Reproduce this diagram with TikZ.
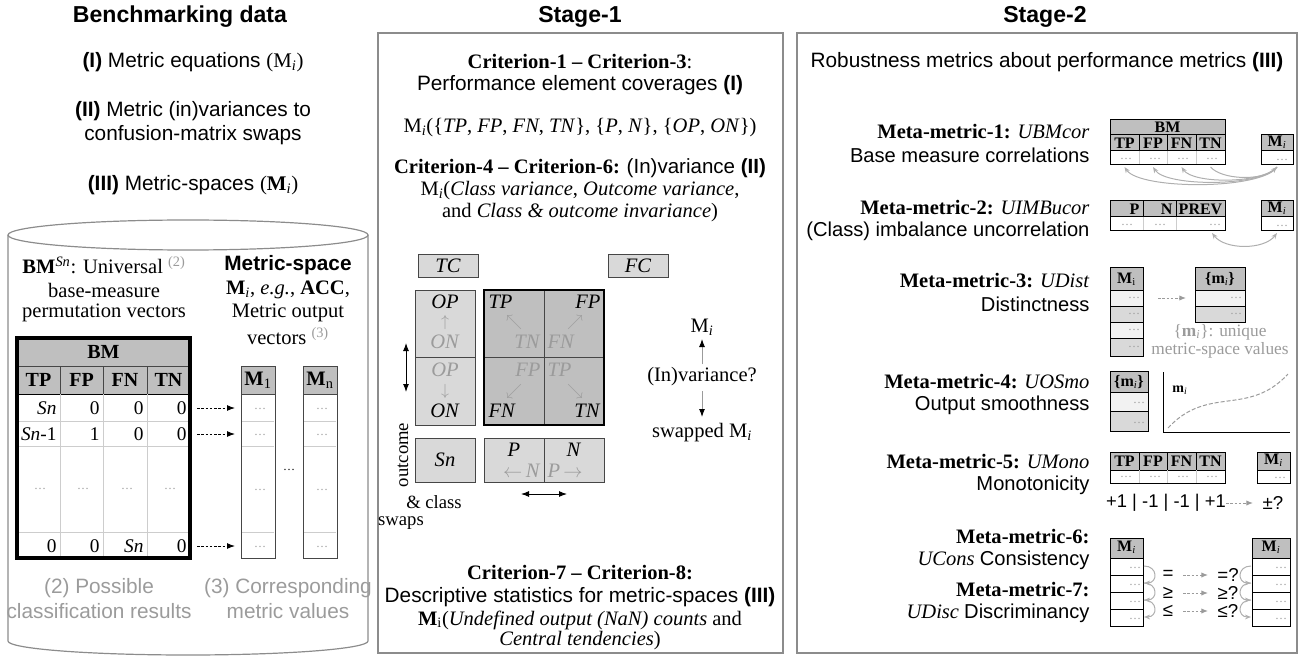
\documentclass[tikz,border=0pt]{standalone}
\usepackage{fontspec}
\setmainfont{Liberation Serif}
\setsansfont{Liberation Sans}
\usetikzlibrary{arrows.meta}

\definecolor{hdrgray}{RGB}{191,191,191}
\definecolor{boxgray}{RGB}{217,217,217}
\definecolor{cellgray}{RGB}{242,242,242}
\definecolor{txtgray}{RGB}{155,155,155}
\definecolor{boxline}{RGB}{140,140,140}
\definecolor{darkline}{RGB}{70,70,70}
\definecolor{rulegray}{RGB}{205,205,205}
\definecolor{arcgray}{RGB}{175,175,175}

\newcommand{\Mi}{M\textsubscript{\textit{i}}}
\newcommand{\bMi}{\textbf{M}\textsubscript{\textit{i}}}
\newcommand{\bmi}{\textbf{m}\textsubscript{\textit{i}}}

\tikzset{every picture/.style={line width=0.75pt}}
\tikzset{
  rmtxt/.style={inner sep=0pt, font=\fontsize{15.4}{18}\selectfont},
  sftxt/.style={inner sep=0pt, font=\sffamily\fontsize{15.6}{18}\selectfont},
  sfsmall/.style={inner sep=0pt, font=\sffamily\fontsize{15.1}{18}\selectfont},
  ttltxt/.style={inner sep=0pt, font=\sffamily\bfseries\fontsize{17.3}{20}\selectfont},
  tabtxt/.style={inner sep=0pt, font=\fontsize{14.5}{17}\selectfont},
  minitxt/.style={inner sep=0pt, font=\bfseries\fontsize{12}{14}\selectfont},
  dottxt/.style={inner sep=0pt, text=txtgray, font=\fontsize{9}{10}\selectfont},
  stagebox/.style={draw=boxline, line width=1pt},
  cylline/.style={draw=boxline, line width=0.9pt},
  hdrcell/.style={draw=darkline, fill=hdrgray},
  thinrule/.style={draw=rulegray},
  dasharrow/.style={dash pattern=on 2pt off 1.2pt, -{Latex[length=6pt,width=4.5pt]}},
  gdasharrow/.style={draw=txtgray, dash pattern=on 2pt off 1.2pt, -{Latex[length=5pt,width=4pt]}},
  garc/.style={draw=arcgray, -{Stealth[length=4.5pt,width=3.5pt]}},
  blkarrow/.style={draw=txtgray, -{Latex[length=6pt,width=4.5pt,color=black]}},
  dblarrow/.style={{Latex[length=6pt,width=4.5pt]}-{Latex[length=6pt,width=4.5pt]}},
}

\begin{document}
\begin{tikzpicture}[x=0.75pt,y=0.75pt,yscale=-1,xscale=1]
	\useasboundingbox (0,0) rectangle (1302,659);

	%%% Benchmarking data
	\node[ttltxt] (bmtitle) at (180,17) {Benchmarking data};
	\node[sftxt] (lvI) at (193,62) {\textbf{(I)} Metric equations {\rmfamily(\Mi)}};
	\node[sftxt] (lvII) at (193,111) {\textbf{(II)} Metric (in)variances to};
	\node[sftxt] (lvIIb) at (193,135) {confusion-matrix swaps};
	\node[sftxt] (lvIII) at (193,185) {\textbf{(III)} Metric-spaces {\rmfamily(\bMi)}};

	%Shape: Can
	\draw[cylline] (8,235) -- (8,641) arc[start angle=180, end angle=0, x radius=180, y radius=14] -- (368,235);
	\draw[cylline] (188,235) ellipse [x radius=180, y radius=15];

	% Text Node
	\node[rmtxt] (bmsn) at (104,265) {\textbf{BM}\textsuperscript{\textit{Sn}}: Universal \textcolor{txtgray}{\textsuperscript{(2)}}};
	\node[rmtxt] (bmsnb) at (104,290) {base-measure};
	\node[rmtxt] (bmsnc) at (104,313) {permutation vectors};
	\node[sftxt, font=\sffamily\bfseries\fontsize{15.6}{18}\selectfont] (msp) at (288,265) {Metric-space};
	\node[rmtxt] (mspb) at (288,290) {\bMi, \textit{e.g.}, \textbf{ACC},};
	\node[rmtxt] (mspc) at (288,313) {Metric output};
	\node[rmtxt] (mspd) at (288,336) {vectors \textcolor{txtgray}{\textsuperscript{(3)}}};

	%Table: BM
	\draw[hdrcell] (17,338) rectangle (190,394);
	\draw[fill=white] (17,394) rectangle (190,558);
	\draw[darkline] (17,366) -- (190,366);
	\draw[darkline] (60,366) -- (60,394);
	\draw[darkline] (103,366) -- (103,394);
	\draw[darkline] (147,366) -- (147,394);
	\draw[thinrule] (60,394) -- (60,558);
	\draw[thinrule] (103,394) -- (103,558);
	\draw[thinrule] (147,394) -- (147,558);
	\draw[thinrule] (17,421) -- (190,421);
	\draw[thinrule] (17,446) -- (190,446);
	\draw[thinrule] (17,532) -- (190,532);
	\draw[line width=2.4pt] (17,338) rectangle (190,558);

	\node[tabtxt, font=\bfseries\fontsize{15}{17}\selectfont] (bmhd) at (103.5,352) {BM};
	\node[tabtxt, font=\bfseries\fontsize{15}{17}\selectfont] (tphd) at (38.5,380) {TP};
	\node[tabtxt, font=\bfseries\fontsize{15}{17}\selectfont] (fphd) at (81.5,380) {FP};
	\node[tabtxt, font=\bfseries\fontsize{15}{17}\selectfont] (fnhd) at (125,380) {FN};
	\node[tabtxt, font=\bfseries\fontsize{15}{17}\selectfont] (tnhd) at (168.5,380) {TN};
	\node[tabtxt, anchor=east] (ra) at (57,408) {\textit{Sn}};
	\node[tabtxt, anchor=east] (rb) at (100,408) {0};
	\node[tabtxt, anchor=east] (rc) at (144,408) {0};
	\node[tabtxt, anchor=east] (rd) at (187,408) {0};
	\node[tabtxt, anchor=east] (sa) at (57,434) {\textit{Sn}-1};
	\node[tabtxt, anchor=east] (sb) at (100,434) {1};
	\node[tabtxt, anchor=east] (sc) at (144,434) {0};
	\node[tabtxt, anchor=east] (sd) at (187,434) {0};
	\node[dottxt] (ta) at (40,489) {\dots};
	\node[dottxt] (tb) at (83,489) {\dots};
	\node[dottxt] (tc) at (127,489) {\dots};
	\node[dottxt] (td) at (170,489) {\dots};
	\node[tabtxt, anchor=east] (ua) at (57,546) {0};
	\node[tabtxt, anchor=east] (ub) at (100,546) {0};
	\node[tabtxt, anchor=east] (uc) at (144,546) {\textit{Sn}};
	\node[tabtxt, anchor=east] (ud) at (187,546) {0};

	%Table: M1 and Mn
	\draw[hdrcell] (241,366) rectangle (275,394);
	\draw[draw=darkline] (241,394) rectangle (275,558);
	\draw[thinrule] (242,421) -- (274,421);
	\draw[thinrule] (242,446) -- (274,446);
	\draw[thinrule] (242,532) -- (274,532);
	\draw[hdrcell] (303,366) rectangle (337,394);
	\draw[draw=darkline] (303,394) rectangle (337,558);
	\draw[thinrule] (304,421) -- (336,421);
	\draw[thinrule] (304,446) -- (336,446);
	\draw[thinrule] (304,532) -- (336,532);
	\node[tabtxt, font=\bfseries\fontsize{15.4}{17}\selectfont] (mone) at (258,380) {M\textsubscript{\mdseries 1}};
	\node[tabtxt, font=\bfseries\fontsize{15.4}{17}\selectfont] (mn) at (320,380) {M\textsubscript{\mdseries n}};
	\node[dottxt] (m1a) at (260,409) {\dots};
	\node[dottxt] (m1b) at (260,435) {\dots};
	\node[dottxt] (m1c) at (260,490) {\dots};
	\node[dottxt] (m1d) at (260,547) {\dots};
	\node[dottxt] (mna) at (322,409) {\dots};
	\node[dottxt] (mnb) at (322,435) {\dots};
	\node[dottxt] (mnc) at (322,490) {\dots};
	\node[dottxt] (mnd) at (322,547) {\dots};
	\node[dottxt, text=black] (mgap) at (289,470) {\dots};

	%Dashed arrows
	\coordinate (bra) at (197,408);
	\coordinate (brb) at (197,434);
	\coordinate (brc) at (197,546);
	\coordinate (mra) at (235,408);
	\coordinate (mrb) at (235,434);
	\coordinate (mrc) at (235,546);
	\draw[dasharrow] (bra) -- (mra);
	\draw[dasharrow] (brb) -- (mrb);
	\draw[dasharrow] (brc) -- (mrc);

	\node[sftxt, text=txtgray] (possa) at (99,588) {(2) Possible};
	\node[sftxt, text=txtgray] (possb) at (99,611) {classification results};
	\node[sftxt, text=txtgray] (corra) at (288,588) {(3) Corresponding};
	\node[sftxt, text=txtgray] (corrb) at (288,611) {metric values};

	%%% Stage-1
	\node[ttltxt] (stone) at (580,17) {Stage-1};
	\draw[stagebox] (378,33) rectangle (783,653);
	\node[rmtxt] (crA) at (580,62) {\textbf{Criterion-1 -- Criterion-3}:};
	\node[sftxt] (crAb) at (580,85) {Performance element coverages \textbf{(I)}};
	\node[rmtxt] (cov) at (580,128) {\Mi(\{\textit{TP}, \textit{FP}, \textit{FN}, \textit{TN}\}, \{\textit{P}, \textit{N}\}, \{\textit{OP}, \textit{ON}\})};
	\node[rmtxt] (crB) at (580,168) {\textbf{Criterion-4 -- Criterion-6:} {\sffamily (In)variance \textbf{(II)}}};
	\node[rmtxt] (crBb) at (580,191) {\Mi(\textit{Class variance}, \textit{Outcome variance},};
	\node[rmtxt] (crBc) at (580,213) {and \textit{Class \& outcome invariance})};

	%TC and FC
	\draw[draw=darkline, fill=boxgray] (418,255) rectangle (478,277);
	\draw[draw=darkline, fill=boxgray] (608,255) rectangle (668,277);
	\node[rmtxt] (tc) at (448,266) {\textit{TC}};
	\node[rmtxt] (fc) at (638,266) {\textit{FC}};

	%Outcome box
	\draw[draw=darkline, fill=boxgray] (415,290) rectangle (475,425);
	\draw[darkline] (415,357.5) -- (475,357.5);
	\node[rmtxt] (opa) at (445,302) {\textit{OP}};
	\node[rmtxt, text=txtgray, font=\fontsize{12}{14}\selectfont] (upa) at (445,322) {$\uparrow$};
	\node[rmtxt, text=txtgray] (ona) at (445,342) {\textit{ON}};
	\node[rmtxt, text=txtgray] (opb) at (445,370) {\textit{OP}};
	\node[rmtxt, text=txtgray, font=\fontsize{12}{14}\selectfont] (dnb) at (445,391) {$\downarrow$};
	\node[rmtxt] (onb) at (445,411) {\textit{ON}};

	%Confusion matrix
	\draw[fill=hdrgray] (484,290) rectangle (604,425);
	\draw[darkline] (544,290) -- (544,425);
	\draw[darkline] (484,357.5) -- (604,357.5);
	\draw[line width=2.2pt] (484,290) rectangle (604,425);
	\node[rmtxt, anchor=west] (tpa) at (488,302) {\textit{TP}};
	\node[rmtxt, text=txtgray, font=\fontsize{12}{14}\selectfont] (nwa) at (514,322) {$\nwarrow$};
	\node[rmtxt, anchor=east, text=txtgray] (tna) at (541,342) {\textit{TN}};
	\node[rmtxt, anchor=east] (fpa) at (601,302) {\textit{FP}};
	\node[rmtxt, text=txtgray, font=\fontsize{12}{14}\selectfont] (nea) at (575,322) {$\nearrow$};
	\node[rmtxt, anchor=west, text=txtgray] (fna) at (547,342) {\textit{FN}};
	\node[rmtxt, anchor=east, text=txtgray] (fpb) at (541,370) {\textit{FP}};
	\node[rmtxt, text=txtgray, font=\fontsize{12}{14}\selectfont] (swb) at (514,391) {$\swarrow$};
	\node[rmtxt, anchor=west] (fnb) at (488,411) {\textit{FN}};
	\node[rmtxt, anchor=west, text=txtgray] (tpb) at (547,370) {\textit{TP}};
	\node[rmtxt, text=txtgray, font=\fontsize{12}{14}\selectfont] (seb) at (575,391) {$\searrow$};
	\node[rmtxt, anchor=east] (tnb) at (601,411) {\textit{TN}};

	%Sn and P N
	\draw[draw=darkline, fill=boxgray] (415,438) rectangle (475,482);
	\node[rmtxt] (sn) at (445,460) {\textit{Sn}};
	\draw[draw=darkline, fill=boxgray] (484,438) rectangle (604,482);
	\draw[darkline] (544,438) -- (544,482);
	\node[rmtxt] (pp) at (514,450) {\textit{P}};
	\node[rmtxt] (nn) at (574,450) {\textit{N}};
	\node[rmtxt, anchor=east, text=txtgray] (pl) at (541,471) {$\leftarrow$\,\textit{N}};
	\node[rmtxt, anchor=west, text=txtgray] (pr) at (547,471) {\textit{P}\,$\rightarrow$};

	\coordinate (hl) at (521,494);
	\coordinate (hr) at (567,494);
	\draw[dblarrow] (hl) -- (hr);
	\coordinate (vt) at (406,343);
	\coordinate (vb) at (406,392);
	\draw[dblarrow] (vt) -- (vb);
	\node[rmtxt, rotate=90, font=\fontsize{14}{16}\selectfont] (outc) at (403,455) {outcome};
	\node[rmtxt, font=\fontsize{14}{16}\selectfont] (cls) at (434,502) {\& class};
	\node[rmtxt, font=\fontsize{14}{16}\selectfont] (swp) at (401,523) {swaps};

	%(In)variance
	\node[rmtxt] (invm) at (702,327) {\Mi};
	\node[rmtxt] (invq) at (702,377) {(In)variance?};
	\node[rmtxt] (invs) at (702,433) {swapped \Mi};
	\coordinate (iva) at (702,364);
	\coordinate (ivb) at (702,339);
	\coordinate (ivc) at (702,391);
	\coordinate (ivd) at (702,417);
	\draw[blkarrow] (iva) -- (ivb);
	\draw[blkarrow] (ivc) -- (ivd);

	\node[rmtxt] (crC) at (580,573) {\textbf{Criterion-7 -- Criterion-8:}};
	\node[sftxt] (crCb) at (580,597) {Descriptive statistics for metric-spaces \textbf{(III)}};
	\node[rmtxt] (crCc) at (580,620) {\textbf{M}\textsubscript{i}(\textit{Undefined output (NaN) counts} and};
	\node[rmtxt] (crCd) at (580,641) {\textit{Central tendencies})};

	%%% Stage-2
	\node[ttltxt] (sttwo) at (1045,17) {Stage-2};
	\draw[stagebox] (797,33) rectangle (1297,653);
	\node[sftxt] (rob) at (1047,62) {Robustness metrics about performance metrics \textbf{(III)}};

	%Meta-metric-1
	\node[rmtxt, anchor=east] (mma) at (1090,132) {\textbf{Meta-metric-1:} \textit{UBMcor}};
	\node[sfsmall, anchor=east] (mmab) at (1090,155) {Base measure correlations};
	\draw[fill=hdrgray] (1110,120) rectangle (1225,151);
	\draw (1110,135) -- (1225,135);
	\draw (1139,135) -- (1139,151);
	\draw (1167,135) -- (1167,151);
	\draw (1196,135) -- (1196,151);
	\draw[thinrule] (1139,151) -- (1139,165);
	\draw[thinrule] (1167,151) -- (1167,165);
	\draw[thinrule] (1196,151) -- (1196,165);
	\draw (1110,120) rectangle (1225,165);
	\node[minitxt] (abm) at (1167.5,127.5) {BM};
	\node[minitxt] (atp) at (1124.5,143) {TP};
	\node[minitxt] (afp) at (1153,143) {FP};
	\node[minitxt] (afn) at (1181.5,143) {FN};
	\node[minitxt] (atn) at (1210.5,143) {TN};
	\node[dottxt] (ada) at (1126,159) {\dots};
	\node[dottxt] (adb) at (1155,159) {\dots};
	\node[dottxt] (adc) at (1183,159) {\dots};
	\node[dottxt] (add) at (1212,159) {\dots};
	\draw[fill=hdrgray] (1261,135) rectangle (1293,151);
	\draw (1261,151) rectangle (1293,165);
	\node[minitxt] (ami) at (1277,142) {M\textsubscript{\mdseries\itshape i}};
	\node[dottxt] (amd) at (1282,159.5) {\dots};
	\coordinate (ama) at (1277,167);
	\coordinate (ca) at (1124.5,167);
	\coordinate (cb) at (1153,167);
	\coordinate (cc) at (1181.5,167);
	\coordinate (cd) at (1210.5,167);
	\draw[garc] (ama) .. controls (1262,190) and (1140,190) .. (ca);
	\draw[garc] (ama) .. controls (1262,187) and (1166,187) .. (cb);
	\draw[garc] (ama) .. controls (1262,184) and (1193,184) .. (cc);
	\draw[garc] (cd) .. controls (1222,180) and (1262,181) .. (ama);

	%Meta-metric-2
	\node[rmtxt, anchor=east] (mmb) at (1090,208) {\textbf{Meta-metric-2:} \textit{UIMBucor}};
	\node[sfsmall, anchor=east] (mmbb) at (1090,231) {(Class) imbalance uncorrelation};
	\draw[fill=hdrgray] (1110,201) rectangle (1225,217);
	\draw (1143,201) -- (1143,217);
	\draw (1176,201) -- (1176,217);
	\draw[thinrule] (1143,217) -- (1143,231);
	\draw[thinrule] (1176,217) -- (1176,231);
	\draw (1110,201) rectangle (1225,231);
	\node[minitxt, anchor=east] (bp) at (1140,209) {P};
	\node[minitxt, anchor=east] (bn) at (1173,209) {N};
	\node[minitxt] (bprev) at (1200.5,209) {PREV};
	\node[dottxt] (bda) at (1127,225) {\dots};
	\node[dottxt] (bdb) at (1160,225) {\dots};
	\node[dottxt] (bdc) at (1215,225) {\dots};
	\draw[fill=hdrgray] (1261,201) rectangle (1293,217);
	\draw (1261,217) rectangle (1293,231);
	\node[minitxt] (bmi) at (1277,208) {M\textsubscript{\mdseries\itshape i}};
	\node[dottxt] (bmd) at (1282,225.5) {\dots};
	\coordinate (bpa) at (1212,233);
	\coordinate (bpb) at (1277,233);
	\draw[garc, {Stealth[length=4.5pt,width=3.5pt]}-{Stealth[length=4.5pt,width=3.5pt]}] (bpa) .. controls (1225,250) and (1264,250) .. (bpb);

	%Meta-metric-3
	\node[rmtxt, anchor=east] (mmc) at (1090,281) {\textbf{Meta-metric-3:} \textit{UDist}};
	\node[sfsmall, anchor=east] (mmcb) at (1090,304) {Distinctness};
	\draw[fill=hdrgray] (1110,268) rectangle (1143,290);
	\draw[fill=cellgray] (1110,290) rectangle (1143,306);
	\draw[fill=boxgray] (1110,306) rectangle (1143,322);
	\draw[fill=cellgray] (1110,322) rectangle (1143,338);
	\draw[fill=boxgray] (1110,338) rectangle (1143,356);
	\node[minitxt] (cmi) at (1126.5,279) {M\textsubscript{\mdseries i}};
	\node[dottxt] (cda) at (1134,298) {\dots};
	\node[dottxt] (cdb) at (1134,314) {\dots};
	\node[dottxt] (cdc) at (1134,330) {\dots};
	\node[dottxt] (cdd) at (1134,347) {\dots};
	\coordinate (cga) at (1158,298);
	\coordinate (cgb) at (1186,298);
	\draw[gdasharrow] (cga) -- (cgb);
	\draw[fill=hdrgray] (1195,268) rectangle (1245,290);
	\draw[fill=cellgray] (1195,290) rectangle (1245,306);
	\draw[fill=boxgray] (1195,306) rectangle (1245,322);
	\node[minitxt] (cmset) at (1220,279) {\{m\textsubscript{\mdseries\itshape i}\}};
	\node[dottxt] (cea) at (1236,298) {\dots};
	\node[dottxt] (ceb) at (1236,314) {\dots};
	\node[rmtxt, text=txtgray, font=\fontsize{13}{15}\selectfont] (cuq) at (1220,332) {\{\bmi\}: unique};
	\node[rmtxt, text=txtgray, font=\fontsize{13}{15}\selectfont] (cuqb) at (1220,350) {metric-space values};

	%Meta-metric-4
	\node[rmtxt, anchor=east] (mmd) at (1090,382) {\textbf{Meta-metric-4:} \textit{UOSmo}};
	\node[sfsmall, anchor=east] (mmdb) at (1090,405) {Output smoothness};
	\draw[fill=hdrgray] (1110,371) rectangle (1148,392);
	\draw[fill=cellgray] (1110,392) rectangle (1148,411);
	\draw[fill=boxgray] (1110,411) rectangle (1148,431);
	\node[minitxt] (dmset) at (1129,382) {\{m\textsubscript{\mdseries\itshape i}\}};
	\node[dottxt] (dda) at (1139,403) {\dots};
	\node[dottxt] (ddb) at (1139,423) {\dots};
	\coordinate (dax) at (1163,372);
	\coordinate (dor) at (1163,432);
	\coordinate (day) at (1290,432);
	\draw (dax) -- (dor) -- (day);
	\node[minitxt, font=\bfseries\fontsize{10.5}{12}\selectfont] (dlab) at (1180,390) {m\textsubscript{\mdseries\itshape i}};
	\draw[txtgray, dash pattern=on 3pt off 1.5pt] plot[domain=-1:1, samples=40] ({1228+60*\x},{401-27*(0.7*\x*\x*\x+0.3*\x)});

	%Meta-metric-5
	\node[rmtxt, anchor=east] (mme) at (1090,462) {\textbf{Meta-metric-5:} \textit{UMono}};
	\node[sfsmall, anchor=east] (mmeb) at (1090,485) {Monotonicity};
	\draw[fill=hdrgray] (1110,452) rectangle (1225,470);
	\draw (1139,452) -- (1139,470);
	\draw (1167,452) -- (1167,470);
	\draw (1196,452) -- (1196,470);
	\draw[thinrule] (1139,470) -- (1139,483);
	\draw[thinrule] (1167,470) -- (1167,483);
	\draw[thinrule] (1196,470) -- (1196,483);
	\draw (1110,452) rectangle (1225,483);
	\node[minitxt] (etp) at (1124.5,461) {TP};
	\node[minitxt] (efp) at (1153,461) {FP};
	\node[minitxt] (efn) at (1181.5,461) {FN};
	\node[minitxt] (etn) at (1210.5,461) {TN};
	\node[dottxt] (eda) at (1126,477) {\dots};
	\node[dottxt] (edb) at (1155,477) {\dots};
	\node[dottxt] (edc) at (1183,477) {\dots};
	\node[dottxt] (edd) at (1212,477) {\dots};
	\draw[fill=hdrgray] (1257,452) rectangle (1290,470);
	\draw (1257,470) rectangle (1290,483);
	\node[minitxt] (emi) at (1273.5,460) {M\textsubscript{\mdseries\itshape i}};
	\node[dottxt] (emd) at (1280,477.5) {\dots};
	\node[sftxt, font=\sffamily\fontsize{13.8}{16}\selectfont] (esgn) at (1166,503) {+1 | -1 | -1 | +1};
	\node[sftxt, font=\sffamily\fontsize{14}{16}\selectfont] (eres) at (1273,503) {±?};
	\coordinate (ega) at (1226,503);
	\coordinate (egb) at (1253,503);
	\draw[gdasharrow] (ega) -- (egb);

	%Meta-metric-6 and -7
	\node[rmtxt, anchor=east] (mmf) at (1090,537) {\textbf{Meta-metric-6:}};
	\node[rmtxt, anchor=east] (mmfb) at (1090,560) {\textit{UCons} {\sffamily\fontsize{15.1}{18}\selectfont Consistency}};
	\node[rmtxt, anchor=east] (mmg) at (1090,590) {\textbf{Meta-metric-7:}};
	\node[rmtxt, anchor=east] (mmgb) at (1090,613) {\textit{UDisc} {\sffamily\fontsize{15.1}{18}\selectfont Discriminancy}};
	\draw[fill=hdrgray] (1110,538) rectangle (1143,558);
	\draw (1110,558) rectangle (1143,575);
	\draw (1110,575) rectangle (1143,592);
	\draw (1110,592) rectangle (1143,609);
	\draw (1110,609) rectangle (1143,626);
	\node[minitxt] (fmi) at (1126.5,547) {M\textsubscript{\mdseries\itshape i}};
	\draw[fill=hdrgray] (1252,538) rectangle (1290,558);
	\draw (1252,558) rectangle (1290,575);
	\draw (1252,575) rectangle (1290,592);
	\draw (1252,592) rectangle (1290,609);
	\draw (1252,609) rectangle (1290,626);
	\node[minitxt] (gmi) at (1271,547) {M\textsubscript{\mdseries\itshape i}};
	\node[dottxt] (fda) at (1135,567.5) {\dots};
	\node[dottxt] (fdb) at (1135,584.5) {\dots};
	\node[dottxt] (fdc) at (1135,601.5) {\dots};
	\node[dottxt] (fdd) at (1135,618.5) {\dots};
	\node[dottxt] (gda) at (1281,567.5) {\dots};
	\node[dottxt] (gdb) at (1281,584.5) {\dots};
	\node[dottxt] (gdc) at (1281,601.5) {\dots};
	\node[dottxt] (gdd) at (1281,618.5) {\dots};

	\node[sftxt, font=\sffamily\fontsize{14}{16}\selectfont] (feq) at (1168,575) {=};
	\node[sftxt, font=\sffamily\fontsize{14}{16}\selectfont] (fge) at (1168,593) {≥};
	\node[sftxt, font=\sffamily\fontsize{14}{16}\selectfont] (fle) at (1168,611) {≤};
	\node[sftxt, font=\sffamily\fontsize{14}{16}\selectfont] (geq) at (1228,575) {=?};
	\node[sftxt, font=\sffamily\fontsize{14}{16}\selectfont] (gge) at (1228,593) {≥?};
	\node[sftxt, font=\sffamily\fontsize{14}{16}\selectfont] (gle) at (1228,611) {≤?};
	\coordinate (fqa) at (1183,575);
	\coordinate (fqb) at (1208,575);
	\coordinate (fga) at (1183,593);
	\coordinate (fgb) at (1208,593);
	\coordinate (fla) at (1183,611);
	\coordinate (flb) at (1208,611);
	\draw[gdasharrow] (fqa) -- (fqb);
	\draw[gdasharrow] (fga) -- (fgb);
	\draw[gdasharrow] (fla) -- (flb);

	%Curved arrows by the rows
	\coordinate (la) at (1144,566);
	\coordinate (lb) at (1144,583);
	\coordinate (lc) at (1144,600);
	\coordinate (ld) at (1144,617);
	\draw[garc] (la) .. controls (1158,566) and (1158,583) .. (lb);
	\draw[garc] (lb) .. controls (1158,583) and (1158,600) .. (lc);
	\draw[garc] (lc) .. controls (1158,600) and (1158,617) .. (ld);
	\coordinate (ra) at (1251,566);
	\coordinate (rb) at (1251,583);
	\coordinate (rc) at (1251,600);
	\coordinate (rd) at (1251,617);
	\draw[garc] (ra) .. controls (1237,566) and (1237,583) .. (rb);
	\draw[garc] (rb) .. controls (1237,583) and (1237,600) .. (rc);
	\draw[garc] (rc) .. controls (1237,600) and (1237,617) .. (rd);

\end{tikzpicture}
\end{document}
